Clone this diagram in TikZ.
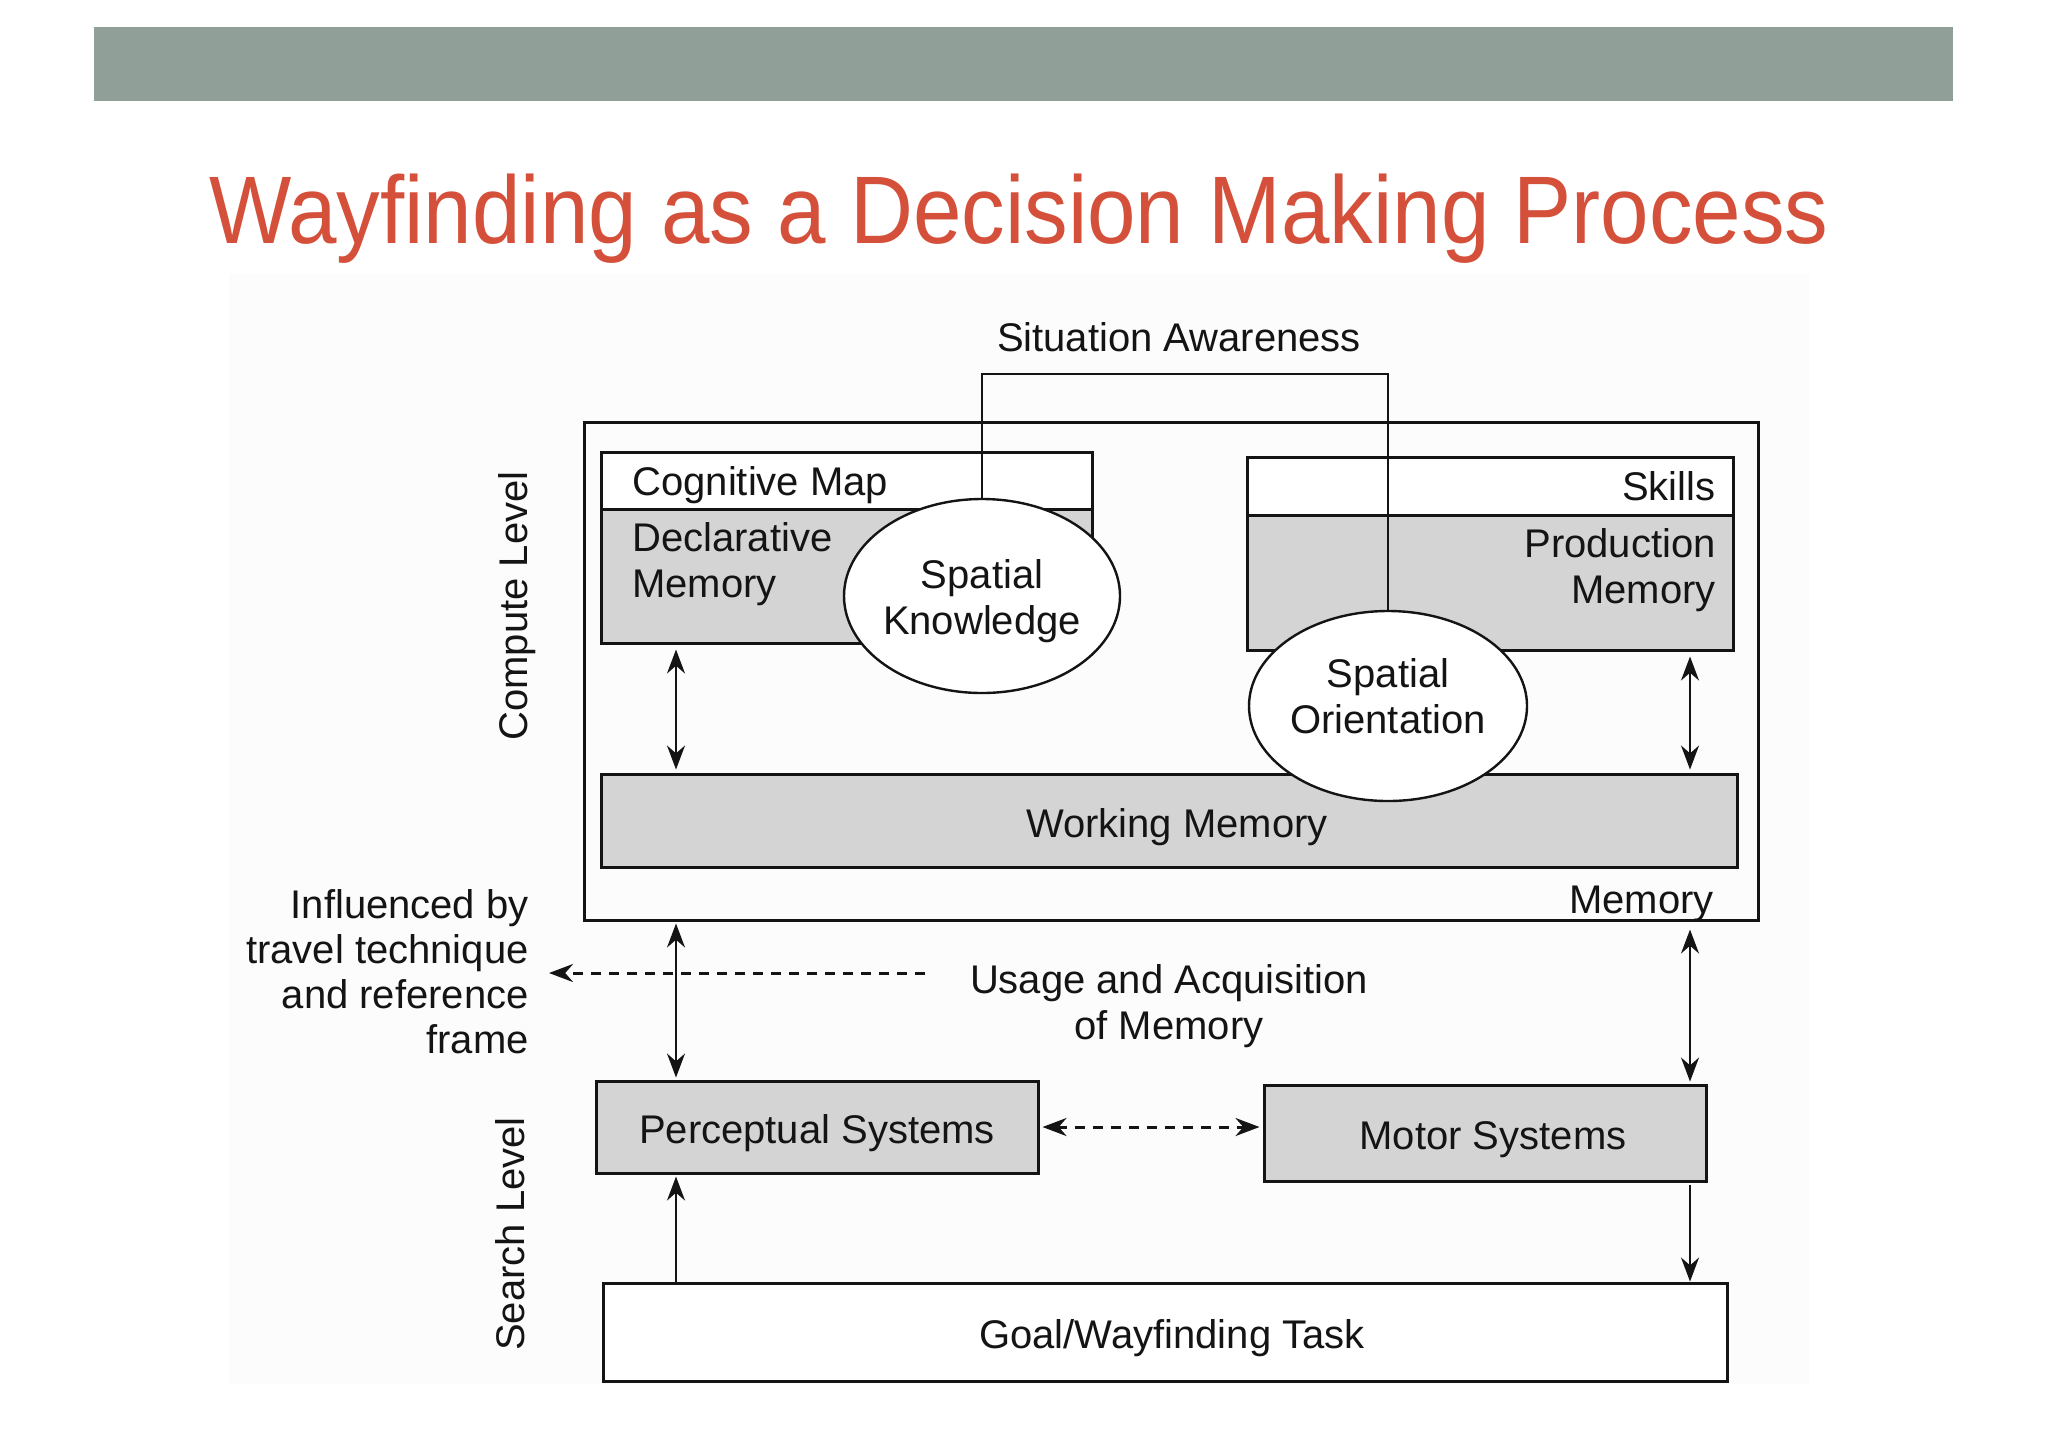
\documentclass[tikz,border=0pt]{standalone}
\usepackage{fontspec}
\setmainfont{Liberation Sans}
\newfontfamily\titlefont[FakeStretch=0.908]{Liberation Sans}
\usetikzlibrary{shapes.geometric,arrows.meta,calc}
\definecolor{banner}{RGB}{144,160,152}
\definecolor{titlered}{RGB}{213,80,58}
\definecolor{scanbg}{RGB}{253,252,253}
\definecolor{stipple}{RGB}{212,212,212}
\definecolor{ink}{RGB}{20,20,20}
\begin{document}
\begin{tikzpicture}[x=0.5pt,y=-0.5pt,
  >={Stealth[length=12pt,width=9pt]},
  txt/.style={font=\fontsize{20}{23}\selectfont, text=ink, inner sep=0pt},
  boxw/.style={draw=ink, line width=1.5pt, fill=white, inner sep=0pt, font=\fontsize{20}{23}\selectfont, text=ink, text height=21pt, text depth=4.2pt},
  boxg/.style={draw=ink, line width=1.5pt, fill=stipple, inner sep=0pt, font=\fontsize{20}{23}\selectfont, text=ink, text height=21pt, text depth=4.2pt},
  oval/.style={ellipse, draw=ink, line width=1.2pt, fill=white, inner sep=0pt},
  conn/.style={draw=ink, line width=1pt},
  dsh/.style={draw=ink, line width=1.5pt, dash pattern=on 5pt off 4pt}]
\useasboundingbox (0,0) rectangle (2048,1447);
\fill[white] (0,0) rectangle (2048,1447);
% banner and title
\node[fill=banner, minimum width=929.5pt, minimum height=37pt, inner sep=0pt] (banner) at (1023.5,64) {};
\node[anchor=base, inner sep=0pt, text=titlered, font=\titlefont\fontsize{48}{56}\selectfont] (title) at (1019,243) {Wayfinding as a Decision Making Process};
% scanned figure background
\fill[scanbg] (229,274) rectangle (1809,1384);
% outer memory box
\node[draw=ink, line width=1.5pt, inner sep=0pt, minimum width=587pt, minimum height=249pt] (mem) at (1171,671) {};
\node[txt, anchor=east] (memlbl) at (1714,904) {Memory};
% left group
\node[boxw, minimum width=245.5pt, minimum height=28.5pt] (cog) at (846.5,480.5) {};
\node[boxg, minimum width=245.5pt, minimum height=67pt] (decl) at (846.5,576) {};
\node[txt, anchor=west] (cogt) at (632,485) {Cognitive Map};
\node[txt, anchor=west, align=left] (declt) at (632,564) {Declarative\\Memory};
% right group
\node[boxw, minimum width=243pt, minimum height=29pt] (skills) at (1490,486) {};
\node[boxg, minimum width=243pt, minimum height=67.5pt] (prod) at (1490,582.5) {};
\node[txt, anchor=east] (skillst) at (1716,486) {Skills};
\node[txt, anchor=east, align=right] (prodt) at (1716,570) {Production\\Memory};
% working memory
\node[boxg, minimum width=568pt, minimum height=46.5pt] (wm) at (1169,820.5) {\hspace*{8pt}Working Memory};
% ellipses
\node[oval, minimum width=138pt, minimum height=97pt] (sk) at (982,596) {};
\node[txt, align=center] (skt) at (982,601) {Spatial\\Knowledge};
\node[oval, minimum width=139pt, minimum height=95pt] (so) at (1388,706) {};
\node[txt, align=center] (sot) at (1388,696) {Spatial\\Orientation};
% situation awareness
\node[txt] (sa) at (1179,337) {Situation Awareness};
\coordinate (satop) at (1190,374);
\draw[conn] (sk.north) |- (satop) -| (so.north);
% search level boxes
\node[boxg, minimum width=221pt, minimum height=46pt] (per) at (817,1127) {Perceptual Systems};
\node[boxg, minimum width=221pt, minimum height=48pt] (mot) at (1485,1133) {\hspace*{8pt}Motor Systems};
\node[boxw, minimum width=562pt, minimum height=49pt] (goal) at (1165,1332) {\hspace*{7pt}Goal/Wayfinding Task};
% side labels
\node[txt, rotate=90] (compute) at (517,606) {Compute Level};
\node[txt, rotate=90] (search) at (510,1234) {Search Level};
\node[txt, anchor=east, align=right, font=\fontsize{20}{22.5}\selectfont] (infl) at (529,972) {Influenced by\\travel technique\\and reference\\frame};
\node[txt, align=center] (usage) at (1169,1006) {Usage and Acquisition\\of Memory};
% arrows
\coordinate (xL) at (676,0);
\coordinate (xR) at (1690,0);
\draw[conn, <->, shorten <=2.5pt, shorten >=1.5pt] (decl.south -| xL) -- (wm.north -| xL);
\draw[conn, <->, shorten <=2.5pt, shorten >=1.5pt] (prod.south -| xR) -- (wm.north -| xR);
\draw[conn, <->, shorten <=1pt, shorten >=1pt] (mem.south -| xL) -- (per.north -| xL);
\draw[conn, <->, shorten <=4pt, shorten >=1pt] (mem.south -| xR) -- (mot.north -| xR);
\draw[conn, ->, shorten >=1pt] (goal.north -| xL) -- (per.south -| xL);
\draw[conn, ->, shorten <=1pt] (mot.south -| xR) -- (goal.north -| xR);
\draw[dsh, <->, shorten <=1.5pt, shorten >=1.5pt] (per.east) -- (per.east -| mot.west);
\coordinate (dstart) at (925,973);
\draw[dsh, ->, shorten >=10pt] (dstart) -- (dstart -| infl.east);
\end{tikzpicture}
\end{document}
